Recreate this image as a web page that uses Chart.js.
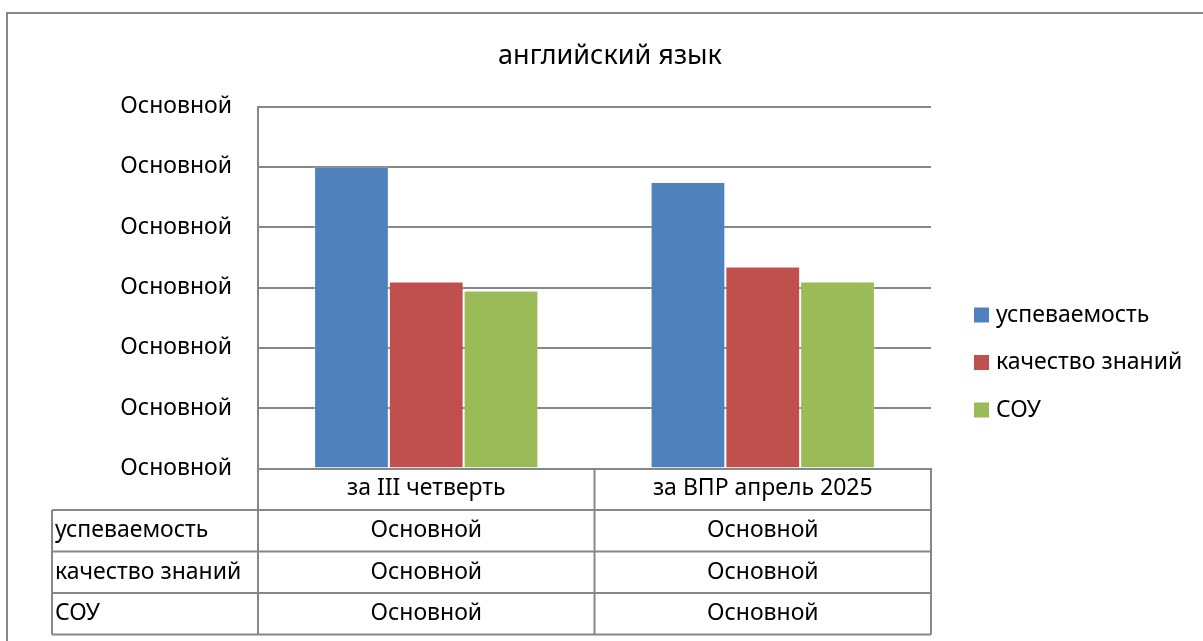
<!doctype html>
<html>
<head>
    <meta charset="utf-8">
    <title>английский язык</title>
    <script src="https://cdn.jsdelivr.net/npm/chart.js@4.4.1/dist/chart.umd.min.js"></script>
    <style>
    html, body {
        margin: 0;
        padding: 0;
        background: #fff;
    }
    #holder {
        width: 1203px;
        height: 641px;
    }
    </style>
</head>
<body>
    <div id="holder">
        <canvas id="chart-area" width="1203" height="641"></canvas>
    </div>
    <script>
    // data
    var chartTitle = 'английский язык';
    var categories = ['за III четверть', 'за ВПР апрель 2025'];
    var seriesNames = ['успеваемость', 'качество знаний', 'СОУ'];
    var uspevaemost = [100, 95];
    var kachestvo = [62, 67];
    var sou = [59, 62];
    var axisTickText = 'Основной';
    // cells of the table under the chart (same text in every cell)
    var tableUspevaemost = ['Основной', 'Основной'];
    var tableKachestvo = ['Основной', 'Основной'];
    var tableSou = ['Основной', 'Основной'];

    var colors = ['#4F81BD', '#C0504D', '#9BBB59'];
    var lineGray = '#878787';
    var fontFamily = '"Noto Sans", "Open Sans", sans-serif';
    var fontSize = 23;

    // title, legend and data table are drawn on top of the chart
    var extrasPlugin = {
        id: 'extras',
        afterDraw: function(chart) {
            var ctx = chart.ctx;
            var area = chart.chartArea;
            var xs = chart.scales.x;
            ctx.save();

            // frame around the whole chart
            ctx.strokeStyle = lineGray;
            ctx.lineWidth = 2;
            ctx.beginPath();
            ctx.moveTo(7, 645);
            ctx.lineTo(7, 13);
            ctx.lineTo(1210, 13);
            ctx.stroke();

            // title
            ctx.fillStyle = '#000';
            ctx.font = '27px ' + fontFamily;
            ctx.textAlign = 'center';
            ctx.textBaseline = 'middle';
            ctx.fillText(chartTitle, 610, 56);

            // legend
            ctx.font = fontSize + 'px ' + fontFamily;
            ctx.textAlign = 'left';
            var legendY = [315, 362.5, 410];
            for (var i = 0; i < seriesNames.length; i++) {
                ctx.fillStyle = colors[i];
                ctx.fillRect(974, legendY[i] - 7.5, 15, 15);
                ctx.fillStyle = '#000';
                ctx.fillText(seriesNames[i], 996, legendY[i]);
            }

            // data table
            var rowH = 41.5;
            var top = area.bottom;
            var left = 52;
            var mid = (xs.getPixelForValue(0) + xs.getPixelForValue(1)) / 2;
            var colX = [area.left, mid, area.right];
            var rows = [tableUspevaemost, tableKachestvo, tableSou];
            var bottom = top + rowH * (rows.length + 1);

            ctx.strokeStyle = lineGray;
            ctx.lineWidth = 2;
            ctx.beginPath();
            for (var r = 1; r <= rows.length + 1; r++) {
                var y = top + rowH * r;
                ctx.moveTo(left, y);
                ctx.lineTo(area.right, y);
            }
            for (var c = 0; c < colX.length; c++) {
                ctx.moveTo(colX[c], top);
                ctx.lineTo(colX[c], bottom);
            }
            ctx.moveTo(left, top + rowH);
            ctx.lineTo(left, bottom);
            ctx.stroke();

            ctx.fillStyle = '#000';
            ctx.font = fontSize + 'px ' + fontFamily;
            for (var r2 = 0; r2 < rows.length; r2++) {
                var cy = top + rowH * (r2 + 1.5);
                ctx.textAlign = 'left';
                ctx.fillText(seriesNames[r2], left + 3, cy);
                ctx.textAlign = 'center';
                for (var k = 0; k < rows[r2].length; k++) {
                    ctx.fillText(rows[r2][k], (colX[k] + colX[k + 1]) / 2, cy);
                }
            }
            ctx.restore();
        }
    };

    var datasets = [uspevaemost, kachestvo, sou].map(function(values, i) {
        return {
            label: seriesNames[i],
            data: values,
            backgroundColor: colors[i],
            borderColor: 'rgba(255,255,255,0.25)',
            borderWidth: 1,
            categoryPercentage: 3 / 4.5,
            barPercentage: 1
        };
    });

    var config = {
        type: 'bar',
        data: {
            labels: categories,
            datasets: datasets
        },
        options: {
            responsive: false,
            animation: false,
            layout: {
                padding: { top: 106.5, right: 272, left: 0, bottom: 0 }
            },
            plugins: {
                legend: { display: false },
                title: { display: false },
                tooltip: { enabled: false }
            },
            scales: {
                x: {
                    grid: { display: false, drawTicks: false },
                    border: { display: true, color: lineGray, width: 2 },
                    ticks: {
                        color: '#000',
                        padding: 6,
                        font: { family: fontFamily, size: fontSize }
                    },
                    afterFit: function(scale) { scale.height = 641 - 468.5; }
                },
                y: {
                    min: 0,
                    max: 120,
                    grid: { color: lineGray, lineWidth: 2, drawTicks: false },
                    border: { display: true, color: lineGray, width: 2 },
                    ticks: {
                        stepSize: 20,
                        color: '#000',
                        padding: 26,
                        font: { family: fontFamily, size: fontSize },
                        callback: function() { return axisTickText; }
                    },
                    afterFit: function(scale) { scale.width = 258; }
                }
            }
        },
        plugins: [extrasPlugin]
    };

    window.onload = function() {
        var ctx = document.getElementById('chart-area').getContext('2d');
        window.myBar = new Chart(ctx, config);
    };
    </script>
</body>
</html>
